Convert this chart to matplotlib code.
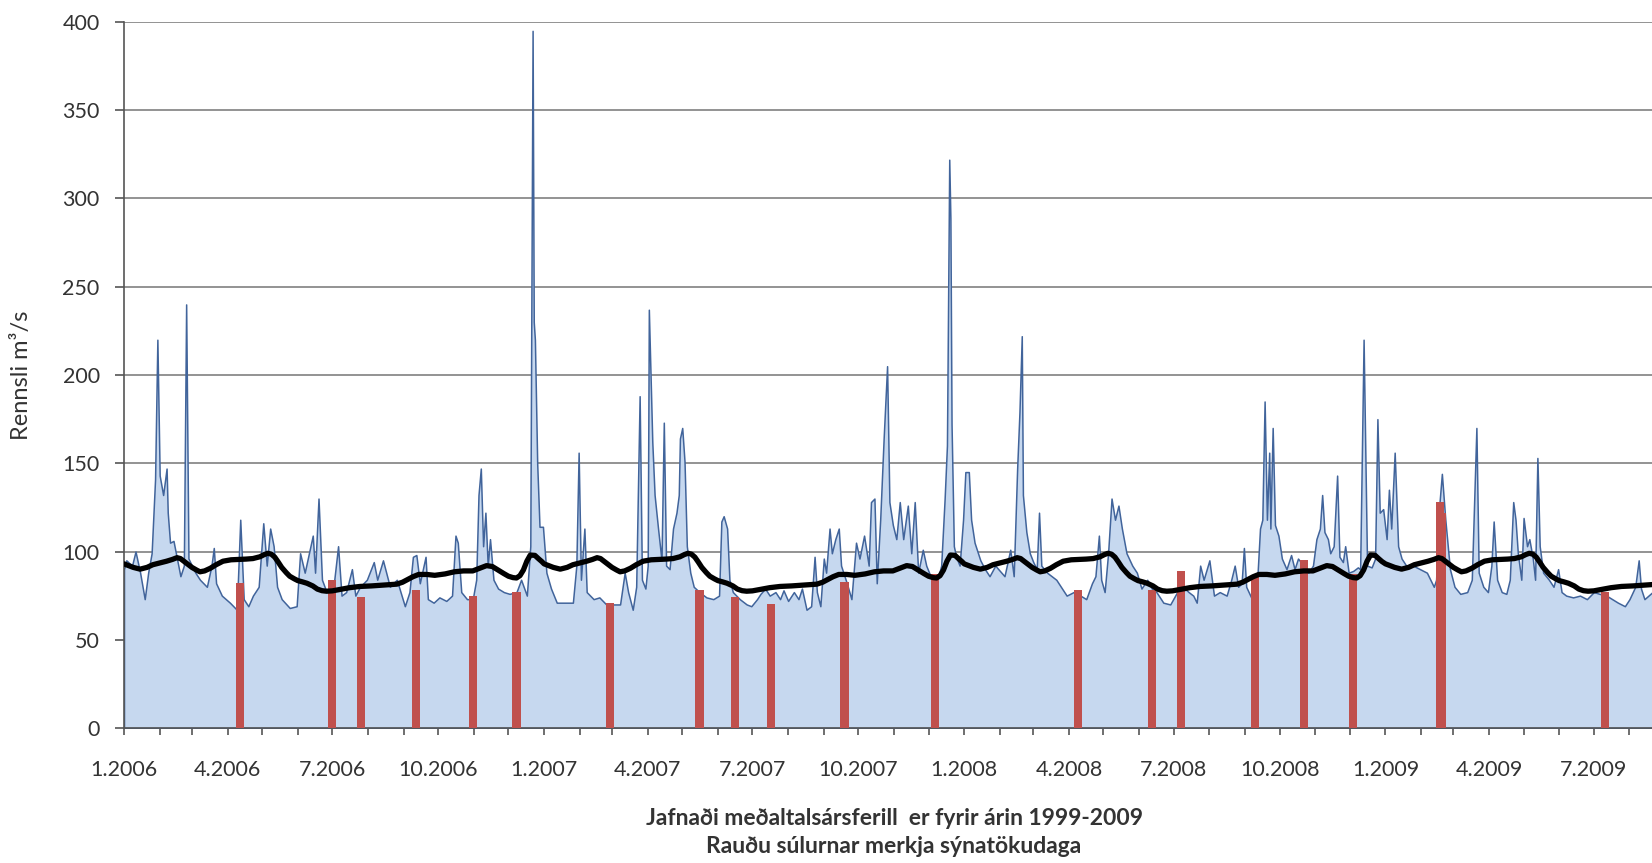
import numpy as np
import matplotlib.pyplot as plt
import matplotlib.dates as mdates

plt.rcParams['font.family'] = ['Lato', 'DejaVu Sans']

start = np.datetime64('2006-01-01')

# dagrennsli, dagar frá 1.1.2006
flow_day = [0, 2, 7, 10, 14, 18, 21, 24, 27, 29, 31, 34, 37, 38, 40, 43, 46, 49, 52, 54, 56, 59, 62, 66, 72, 76, 78, 80, 85, 92,
            98, 101, 104, 108, 112, 117, 121, 124, 127, 130, 133, 137, 144, 150, 153, 157, 160, 164, 166, 169, 172, 176, 182, 186, 189, 193, 198, 201, 205, 211,
            217, 220, 225, 231, 237, 244, 248, 251, 254, 257, 262, 264, 269, 274, 280, 285, 288, 290, 293, 298, 303, 306, 308, 310, 312, 314, 316, 318, 321, 325,
            330, 335, 341, 345, 350, 353, 355, 356, 357, 359, 361, 364, 367, 371, 376, 385, 390, 393, 395, 397, 400, 402, 408, 413, 419, 425, 431, 435, 438, 442,
            445, 448, 450, 453, 455, 456, 459, 461, 464, 467, 469, 471, 474, 477, 480, 482, 483, 485, 487, 489, 492, 495, 500, 506, 512, 517, 519, 521, 524, 526,
            529, 535, 541, 545, 550, 553, 557, 561, 566, 570, 573, 577, 582, 586, 589, 593, 597, 600, 602, 605, 608, 610, 613, 615, 618, 621, 623, 628, 632, 636,
            639, 643, 647, 649, 652, 654, 657, 660, 663, 665, 668, 671, 674, 677, 681, 684, 687, 690, 694, 697, 702, 706, 710, 713, 715, 717, 718, 719, 721, 723,
            726, 729, 731, 734, 736, 739, 744, 748, 752, 757, 761, 765, 770, 773, 776, 778, 780, 781, 784, 787, 790, 793, 795, 797, 802, 806, 810, 815, 819, 825,
            831, 836, 841, 844, 847, 849, 852, 855, 858, 861, 864, 867, 871, 876, 880, 884, 889, 893, 897, 903, 909, 915, 920, 925, 929, 932, 935, 938, 943, 947,
            952, 958, 962, 965, 968, 971, 973, 975, 980, 984, 987, 989, 991, 993, 995, 996, 998, 1000, 1003, 1006, 1010, 1014, 1017, 1020, 1025, 1029, 1033, 1036, 1039, 1041,
            1043, 1046, 1048, 1051, 1054, 1056, 1059, 1061, 1064, 1068, 1072, 1074, 1077, 1080, 1084, 1087, 1089, 1091, 1094, 1097, 1099, 1101, 1104, 1107, 1110, 1114, 1120, 1126,
            1132, 1138, 1140, 1143, 1145, 1148, 1152, 1156, 1161, 1167, 1171, 1175, 1177, 1181, 1185, 1188, 1190, 1193, 1197, 1201, 1204, 1207, 1209, 1211, 1214, 1216, 1219, 1221,
            1224, 1226, 1228, 1230, 1233, 1238, 1242, 1246, 1249, 1253, 1259, 1265, 1271, 1277, 1282, 1288, 1293, 1298, 1304, 1308, 1313, 1316, 1318, 1321, 1328, 1338]
flow = [90, 95, 92, 100, 88, 73, 88, 99, 141, 220, 143, 132, 147, 122, 105, 106, 96, 86, 92, 240, 96, 92, 88, 84, 80, 92, 102, 82, 75, 71,
        67, 118, 73, 69, 75, 80, 116, 92, 113, 103, 80, 73, 68, 69, 99, 88, 97, 109, 88, 130, 84, 77, 80, 103, 75, 77, 90, 75, 80, 84,
        94, 84, 95, 80, 84, 69, 77, 97, 98, 82, 97, 73, 71, 74, 72, 75, 109, 105, 77, 73, 73, 84, 132, 147, 103, 122, 92, 107, 84, 79,
        77, 76, 77, 84, 75, 103, 395, 230, 220, 150, 114, 114, 88, 79, 71, 71, 71, 92, 156, 84, 113, 77, 73, 74, 70, 70, 70, 88, 77, 67,
        80, 188, 84, 79, 92, 237, 162, 132, 113, 95, 173, 92, 90, 113, 122, 132, 164, 170, 151, 103, 88, 80, 77, 74, 73, 75, 117, 120, 113, 84,
        77, 73, 70, 69, 73, 76, 79, 75, 77, 73, 78, 72, 77, 73, 79, 67, 69, 97, 77, 69, 96, 88, 113, 99, 107, 113, 92, 82, 73, 105,
        96, 109, 92, 128, 130, 82, 118, 164, 205, 128, 115, 107, 128, 107, 126, 99, 128, 88, 101, 92, 84, 82, 92, 130, 160, 322, 289, 172, 103, 97,
        92, 118, 145, 145, 118, 105, 95, 90, 86, 92, 89, 86, 101, 86, 147, 179, 222, 132, 111, 99, 94, 90, 122, 92, 88, 86, 84, 79, 75, 77,
        75, 73, 82, 86, 109, 84, 77, 99, 130, 118, 126, 113, 99, 92, 88, 79, 84, 79, 77, 71, 70, 77, 80, 77, 75, 71, 92, 84, 95, 75,
        77, 75, 84, 92, 80, 82, 102, 80, 73, 77, 113, 118, 185, 118, 156, 113, 170, 115, 109, 96, 90, 98, 90, 96, 92, 88, 92, 107, 113, 132,
        111, 107, 99, 103, 143, 97, 94, 103, 88, 89, 91, 90, 220, 92, 91, 96, 175, 122, 124, 107, 135, 113, 156, 103, 96, 92, 92, 90,
        88, 80, 84, 128, 144, 118, 90, 80, 76, 77, 84, 170, 88, 80, 77, 92, 117, 84, 77, 76, 84, 128, 118, 99, 84, 119, 103, 107,
        96, 84, 153, 103, 88, 84, 80, 90, 77, 75, 74, 75, 73, 77, 76, 75, 73, 71, 69, 73, 80, 95, 79, 73, 77, 78]

# jafnaður meðaltalsársferill 1999-2009 (dagur ársins, m3/s)
mean_doy = [0, 4, 8, 14, 20, 25, 31, 37, 42, 46, 49, 52, 56, 59, 63, 66, 70, 75, 80, 86, 93, 100, 106, 112, 118, 122, 125,
            128, 131, 134, 137, 141, 144, 148, 151, 155, 159, 164, 168, 172, 176, 181, 186, 196, 205, 215, 226, 237, 242, 246,
            251, 256, 263, 270, 279, 287, 295, 303, 309, 315, 320, 325, 330, 334, 338, 341, 344, 347, 350, 353, 357, 360, 363]
mean_flow = [93, 92, 91, 90, 91, 92.5, 93.5, 94.5, 95.5, 96.5, 96, 94.5, 92.5, 91, 89.5, 88.5, 89, 90.5, 92.5, 94.5, 95.3, 95.5, 95.7, 96, 97, 98.3, 99,
             98.5, 96.8, 94, 91, 88, 86, 84.5, 83.5, 82.8, 82, 80.5, 78.7, 77.8, 77.5, 77.7, 78.3, 79.5, 80.2, 80.5, 81, 81.5, 82.6, 84,
             85.7, 87, 87, 86.5, 87.3, 88.5, 89, 89, 90.5, 92, 91.5, 89.5, 87.5, 86, 85.2, 85, 86.3, 89.5, 94.5, 98, 97.8, 96, 94.3]
years = [2006, 2007, 2008, 2009]

# sýnatökudagar
sample_dates = ['2006-04-12', '2006-07-01', '2006-07-26', '2006-09-12', '2006-10-31', '2006-12-08',
                '2007-02-27', '2007-05-16', '2007-06-16', '2007-07-17', '2007-09-19', '2007-12-07',
                '2008-04-09', '2008-06-12', '2008-07-07', '2008-09-10', '2008-10-22', '2008-12-04',
                '2009-02-17', '2009-02-19', '2009-07-11']
sample_flow = [82, 84, 74, 78, 75, 77, 71, 78, 74, 70, 83, 87, 78, 78, 89, 86, 95, 87, 128, 122, 77]

dates = start + np.array(flow_day).astype('timedelta64[D]')
m_dates = []
m_vals = []
for y in years:
    y0 = np.datetime64(f'{y}-01-01')
    m_dates += list(y0 + np.array(mean_doy).astype('timedelta64[D]'))
    m_vals += mean_flow
m_dates.append(np.datetime64('2010-01-01'))
m_vals.append(mean_flow[0])
s_dates = np.array(sample_dates, dtype='datetime64[D]')

fig = plt.figure(figsize=(16.52, 8.63), dpi=100)
ax = fig.add_axes([124/1652, 135/863, 1540/1652, 706/863])

ax.fill_between(dates, flow, 0, facecolor='#c6d8ef', edgecolor='#41649b', linewidth=1.1, zorder=2)
ax.bar(s_dates, sample_flow, width=7, color='#c0504d', zorder=3)
ax.plot(m_dates, m_vals, color='black', lw=3.8, zorder=4, solid_capstyle='round', solid_joinstyle='round')

ax.set_xlim(start, np.datetime64('2009-08-31'))
ax.set_ylim(0, 400)
ax.set_yticks(range(0, 401, 50))
ax.yaxis.grid(True, color='#8a8a8a', lw=1.3)
ax.set_axisbelow(True)

ax.xaxis.set_major_locator(mdates.MonthLocator(bymonth=[1, 4, 7, 10]))
ax.xaxis.set_minor_locator(mdates.MonthLocator())
ax.xaxis.set_major_formatter(mdates.DateFormatter('%-m.%Y'))

for s in ['top', 'right']:
    ax.spines[s].set_visible(False)
for s in ['left', 'bottom']:
    ax.spines[s].set_color('#555555')
    ax.spines[s].set_linewidth(1.2)
ax.tick_params(axis='x', which='both', direction='out', length=5, width=1.2, color='#555555')
ax.tick_params(axis='x', which='major', pad=18, labelsize=15.5, labelcolor='#333333')
ax.tick_params(axis='y', direction='out', length=6.5, width=1.2, color='#555555', pad=11,
               labelsize=15.5, labelcolor='#333333')

fig.text(22/1652, 1 - 375/863, 'Rennsli m³/s', rotation=90, ha='center', va='center',
         fontsize=17, color='#333333')
fig.text(894/1652, 1 - 818/863, 'Jafnaði meðaltalsársferill  er fyrir árin 1999-2009',
         ha='center', va='center', fontsize=16.5, fontweight='bold', color='#333333')
fig.text(894/1652, 1 - 846/863, 'Rauðu súlurnar merkja sýnatökudaga',
         ha='center', va='center', fontsize=16.5, fontweight='bold', color='#333333')

fig.savefig('out.png', dpi=100)
